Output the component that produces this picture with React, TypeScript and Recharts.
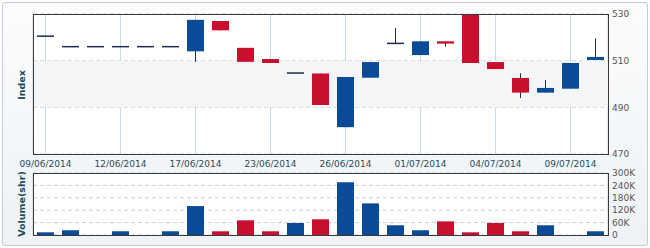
import React from 'react';
import { ComposedChart, Bar, XAxis, YAxis, CartesianGrid, ReferenceArea, Cell } from 'recharts';

const dates = [
  '09/06/2014', '10/06/2014', '11/06/2014', '12/06/2014', '13/06/2014', '16/06/2014',
  '17/06/2014', '18/06/2014', '20/06/2014', '23/06/2014', '24/06/2014', '25/06/2014',
  '26/06/2014', '27/06/2014', '30/06/2014', '01/07/2014', '02/07/2014', '03/07/2014',
  '04/07/2014', '07/07/2014', '08/07/2014', '09/07/2014', '10/07/2014',
];
const openVals = [520.5, 516, 516, 516, 516, 516, 514, 527, 515.5, 510.7, 504.7, 504.5, 481.5, 502.7, 517.4, 512.4, 518.3, 530, 509.4, 502.6, 496.3, 498, 510.3];
const highVals = [520.5, 516, 516, 516, 516, 516, 527.5, 527, 515.5, 510.7, 504.7, 504.5, 503, 509.4, 524, 518.3, 518.3, 530, 509.4, 504.6, 501.7, 509, 519.6];
const lowVals = [520.5, 516, 516, 516, 516, 516, 509.5, 523, 509.5, 509, 504.7, 491, 481.5, 502.7, 517.4, 512.4, 516, 509, 506.4, 494, 496.3, 498, 510.3];
const closeVals = [520.5, 516, 516, 516, 516, 516, 527.5, 523, 509.5, 509, 504.7, 491, 503, 509.4, 517.4, 518.3, 517.3, 509, 506.4, 496.3, 498.3, 509, 511.6];
const volumes = [13000, 23000, 0, 18000, 0, 18000, 140000, 18000, 71000, 18000, 58000, 76000, 255000, 153000, 47000, 23000, 66000, 13000, 58000, 18000, 47000, 0, 18000];

const tickDates = ['09/06/2014', '12/06/2014', '17/06/2014', '23/06/2014', '26/06/2014', '01/07/2014', '04/07/2014', '09/07/2014'];
const priceTicks = [470, 490, 510, 530];
const volumeTicks = [0, 60000, 120000, 180000, 240000, 300000];

const BLUE = '#0b4a96';
const RED = '#c8102e';
const WICK = '#1a2f4f';
const FONT = '"DejaVu Sans", Verdana, sans-serif';

const data = dates.map((date, i) => ({
  date,
  open: openVals[i],
  high: highVals[i],
  low: lowVals[i],
  close: closeVals[i],
  range: [lowVals[i], highVals[i]],
  volume: volumes[i],
}));

const Candle = (props: any) => {
  const { x, y, width, height, payload } = props;
  if (x == null || y == null) return null;
  const { open, close, high, low } = payload;
  const cx = x + width / 2;
  if (high === low) {
    return <rect x={x} y={y - 0.75} width={width} height={1.5} fill={WICK} />;
  }
  const k = height / (high - low);
  const top = y + (high - Math.max(open, close)) * k;
  const bot = y + (high - Math.min(open, close)) * k;
  const flat = open === close;
  const color = flat ? WICK : close > open ? BLUE : RED;
  return (
    <g>
      <line x1={cx} x2={cx} y1={y} y2={y + height} stroke={WICK} strokeWidth={1} />
      <rect x={x} y={flat ? top - 0.75 : top} width={width} height={Math.max(1.5, bot - top)} fill={color} />
    </g>
  );
};

const axisTitle = (text: string, cx: number, cy: number) => (
  <div
    style={{
      position: 'absolute', left: cx - 40, top: cy - 7, width: 80, height: 14,
      textAlign: 'center', transform: 'rotate(-90deg)', fontFamily: FONT,
      fontSize: 9.5, fontWeight: 'bold', color: '#1d4b5b', lineHeight: '14px',
    }}
  >
    {text}
  </div>
);

export default function App() {
  return (
    <div style={{ position: 'absolute', left: 0, top: 0, width: 650, height: 248, background: '#fff' }}>
      <div
        style={{
          position: 'absolute', left: 2, top: 2, width: 644, height: 242,
          border: '1px solid #c5cbd0', borderRadius: 3,
          background: 'linear-gradient(#fbfcfd, #eef2f5)',
        }}
      />
      <div style={{ position: 'absolute', left: 33, top: 14, width: 575, height: 140, background: '#fff' }} />
      <div style={{ position: 'absolute', left: 33, top: 173, width: 575, height: 62, background: '#fff' }} />

      <div style={{ position: 'absolute', left: 0, top: 0 }}>
        <ComposedChart width={650} height={172} data={data} margin={{ top: 14, right: 2, left: 33, bottom: 0 }} barSize={17}>
          <ReferenceArea y1={490} y2={510} fill="#f3f5f7" fillOpacity={1} stroke="none" />
          <CartesianGrid horizontal={false} stroke="#c8d8e2" />
          <CartesianGrid vertical={false} stroke="#c9cdd1" strokeDasharray="4 3" />
          <XAxis
            dataKey="date" ticks={tickDates} interval={0} height={18} tickSize={0} tickMargin={7}
            axisLine={false} tickLine={false}
            tick={{ fontSize: 9, fill: '#2b4b5b', fontFamily: FONT }}
          />
          <YAxis
            orientation="right" domain={[470, 530]} ticks={priceTicks} interval={0} width={40}
            tickSize={4} tickMargin={0} axisLine={false} tickLine={false}
            tick={{ fontSize: 9, fill: '#555', fontFamily: FONT, textAnchor: 'start' }}
          />
          <Bar dataKey="range" shape={<Candle />} isAnimationActive={false} />
        </ComposedChart>
      </div>

      <div style={{ position: 'absolute', left: 0, top: 160 }}>
        <ComposedChart width={650} height={88} data={data} margin={{ top: 13, right: 2, left: 33, bottom: 0 }} barSize={17}>
          <CartesianGrid horizontal={false} stroke="#c8d8e2" />
          <CartesianGrid vertical={false} stroke="#c9cdd1" strokeDasharray="4 3" />
          <XAxis dataKey="date" ticks={tickDates} interval={0} height={13} tick={false} axisLine={false} tickLine={false} />
          <YAxis
            orientation="right" domain={[0, 300000]} ticks={volumeTicks} interval={0} width={40}
            tickSize={4} tickMargin={0} axisLine={false} tickLine={false}
            tickFormatter={(v: number) => (v === 0 ? '0' : `${v / 1000}K`)}
            tick={{ fontSize: 9, fill: '#555', fontFamily: FONT, textAnchor: 'start' }}
          />
          <Bar dataKey="volume" isAnimationActive={false}>
            {data.map((d, i) => (
              <Cell key={i} fill={d.close < d.open ? RED : BLUE} />
            ))}
          </Bar>
        </ComposedChart>
      </div>

      <div style={{ position: 'absolute', left: 33, top: 14, width: 576, height: 141, boxSizing: 'border-box', border: '1px solid #3a3a3a', pointerEvents: 'none' }} />
      <div style={{ position: 'absolute', left: 33, top: 173, width: 576, height: 63, boxSizing: 'border-box', border: '1px solid #3a3a3a', pointerEvents: 'none' }} />

      {axisTitle('Index', 22, 85)}
      {axisTitle('Volume(shr)', 22, 204)}
    </div>
  );
}
